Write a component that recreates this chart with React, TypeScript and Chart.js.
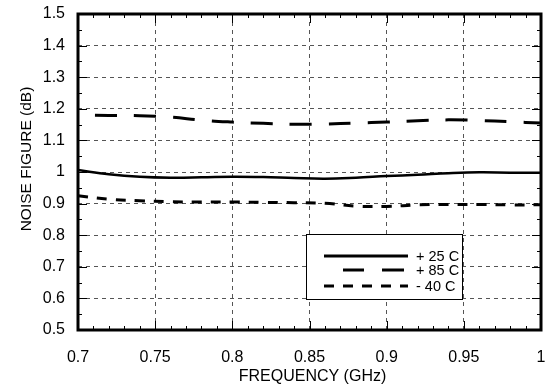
import React, { useEffect, useRef } from "react";
import { Chart, registerables } from "chart.js";

Chart.register(...registerables);

const FREQ = [0.7, 0.72, 0.74, 0.76, 0.78, 0.8, 0.82, 0.84, 0.86, 0.88, 0.9, 0.92, 0.94, 0.96, 0.98, 1.0];
const NF_25C = [1.006, 0.993, 0.985, 0.982, 0.983, 0.985, 0.984, 0.981, 0.979, 0.982, 0.987, 0.991, 0.996, 0.999, 0.998, 0.998];
const NF_85C = [1.18, 1.179, 1.178, 1.174, 1.164, 1.158, 1.154, 1.151, 1.152, 1.155, 1.158, 1.162, 1.165, 1.163, 1.159, 1.155];
const NF_M40C = [0.925, 0.914, 0.909, 0.906, 0.905, 0.905, 0.904, 0.903, 0.901, 0.892, 0.891, 0.896, 0.897, 0.897, 0.896, 0.896];
const SERIES_LABELS = ["+ 25 C", "+ 85 C", "- 40 C"];
const X_TITLE = "FREQUENCY (GHz)";
const Y_TITLE = "NOISE FIGURE (dB)";
const X_MIN = 0.7, X_MAX = 1.0, X_STEP = 0.05, X_MINOR = 0.01;
const Y_MIN = 0.5, Y_MAX = 1.5, Y_STEP = 0.1, Y_MINOR = 0.05;

const FONT = "'Liberation Sans', Arial, Helvetica, sans-serif";
const DASH_85 = [22, 17];
const DASH_M40 = [10, 9];

const fmt = (v: number) => String(+Number(v).toFixed(2));

const framePlugin = {
  id: "frame",
  afterDraw(chart: any) {
    const { ctx, chartArea } = chart;
    const { left, right, top, bottom } = chartArea;
    const xs = chart.scales.x;
    const ys = chart.scales.y;
    ctx.save();
    ctx.setLineDash([]);
    ctx.strokeStyle = "#000";
    // minor ticks
    ctx.lineWidth = 1;
    ctx.beginPath();
    for (let i = 1; i < Math.round((X_MAX - X_MIN) / X_MINOR); i++) {
      const v = X_MIN + i * X_MINOR;
      if (i % 5 === 0) continue;
      const px = Math.round(xs.getPixelForValue(v)) + 0.5;
      ctx.moveTo(px, top); ctx.lineTo(px, top + 4);
      ctx.moveTo(px, bottom); ctx.lineTo(px, bottom - 4);
    }
    for (let i = 1; i < Math.round((Y_MAX - Y_MIN) / Y_MINOR); i++) {
      if (i % 2 === 0) continue;
      const v = Y_MIN + i * Y_MINOR;
      const py = Math.round(ys.getPixelForValue(v)) + 0.5;
      ctx.moveTo(left, py); ctx.lineTo(left + 4, py);
      ctx.moveTo(right, py); ctx.lineTo(right - 4, py);
    }
    // major ticks
    for (let i = 1; i < Math.round((X_MAX - X_MIN) / X_STEP); i++) {
      const px = Math.round(xs.getPixelForValue(X_MIN + i * X_STEP)) + 0.5;
      ctx.moveTo(px, top); ctx.lineTo(px, top + 9);
      ctx.moveTo(px, bottom); ctx.lineTo(px, bottom - 9);
    }
    for (let i = 1; i < Math.round((Y_MAX - Y_MIN) / Y_STEP); i++) {
      const py = Math.round(ys.getPixelForValue(Y_MIN + i * Y_STEP)) + 0.5;
      ctx.moveTo(left, py); ctx.lineTo(left + 9, py);
      ctx.moveTo(right, py); ctx.lineTo(right - 9, py);
    }
    ctx.stroke();
    // frame
    ctx.lineWidth = 3;
    ctx.strokeRect(left, top, right - left, bottom - top);

    // legend
    const bx = 306.5, by = 234.5, bw = 156, bh = 65;
    ctx.fillStyle = "#fff";
    ctx.fillRect(bx, by, bw, bh);
    ctx.lineWidth = 1;
    ctx.strokeRect(bx, by, bw, bh);
    const rows = [256, 270, 286];
    ctx.lineWidth = 3;
    ctx.beginPath(); ctx.setLineDash([]);
    ctx.moveTo(324, rows[0]); ctx.lineTo(408, rows[0]); ctx.stroke();
    ctx.beginPath();
    ctx.moveTo(343, rows[1]); ctx.lineTo(364, rows[1]);
    ctx.moveTo(382, rows[1]); ctx.lineTo(404, rows[1]);
    ctx.stroke();
    ctx.beginPath(); ctx.setLineDash(DASH_M40);
    ctx.moveTo(324, rows[2]); ctx.lineTo(408, rows[2]); ctx.stroke();
    ctx.setLineDash([]);
    ctx.fillStyle = "#000";
    ctx.font = `14.5px ${FONT}`;
    ctx.textAlign = "left";
    ctx.textBaseline = "middle";
    SERIES_LABELS.forEach((s, i) => ctx.fillText(s, 416, rows[i] + 1));

    // titles
    ctx.font = `16px ${FONT}`;
    ctx.textAlign = "center";
    ctx.textBaseline = "middle";
    ctx.fillText(X_TITLE, (left + right) / 2 + 3, 377);
    ctx.save();
    ctx.translate(27, 159);
    ctx.rotate(-Math.PI / 2);
    ctx.font = `15.5px ${FONT}`;
    ctx.fillText(Y_TITLE, 0, 0);
    ctx.restore();
    ctx.restore();
  },
};

export default function App() {
  const ref = useRef<HTMLCanvasElement>(null);
  useEffect(() => {
    if (!ref.current) return;
    const mk = (x: number[], y: number[]) => x.map((v, i) => ({ x: v, y: y[i] }));
    const chart = new Chart(ref.current, {
      type: "line",
      data: {
        datasets: [
          { label: SERIES_LABELS[0], data: mk(FREQ, NF_25C), borderColor: "#000", borderWidth: 2.5, pointRadius: 0, tension: 0.4, fill: false },
          { label: SERIES_LABELS[1], data: mk(FREQ, NF_85C), borderColor: "#000", borderWidth: 3, borderDash: DASH_85, borderDashOffset: 22, pointRadius: 0, tension: 0.4, fill: false },
          { label: SERIES_LABELS[2], data: mk(FREQ, NF_M40C), borderColor: "#000", borderWidth: 3, borderDash: DASH_M40, pointRadius: 0, tension: 0.4, fill: false },
        ],
      },
      options: {
        responsive: false,
        animation: false,
        layout: { padding: { top: 14, right: 4, left: 0, bottom: 0 } },
        plugins: { legend: { display: false }, tooltip: { enabled: false } },
        scales: {
          x: {
            type: "linear",
            min: X_MIN,
            max: X_MAX,
            afterFit: (s: any) => { s.height = 61; s.paddingRight = 0; s.paddingLeft = 0; },
            ticks: { stepSize: X_STEP, color: "#000", font: { family: FONT, size: 16 }, padding: 18, maxRotation: 0, callback: (v: any) => fmt(v) },
            grid: { drawTicks: false, color: (c: any) => (c.tick && (Math.abs(c.tick.value - X_MIN) < 1e-6 || Math.abs(c.tick.value - X_MAX) < 1e-6) ? "rgba(0,0,0,0)" : "#555"), lineWidth: 1 },
            border: { display: false, dash: [4, 4] },
          },
          y: {
            min: Y_MIN,
            max: Y_MAX,
            afterFit: (s: any) => { s.width = 78; s.paddingTop = 0; s.paddingBottom = 0; },
            ticks: { stepSize: Y_STEP, color: "#000", font: { family: FONT, size: 16 }, padding: 13, callback: (v: any) => fmt(v) },
            grid: { drawTicks: false, color: (c: any) => (c.tick && (Math.abs(c.tick.value - Y_MIN) < 1e-6 || Math.abs(c.tick.value - Y_MAX) < 1e-6) ? "rgba(0,0,0,0)" : "#555"), lineWidth: 1 },
            border: { display: false, dash: [4, 4] },
          },
        },
      },
      plugins: [framePlugin],
    });
    return () => chart.destroy();
  }, []);
  return (
    <div style={{ position: "fixed", left: 0, top: 0, width: 545, height: 391, background: "#fff" }}>
      <canvas ref={ref} width={545} height={391} />
    </div>
  );
}
